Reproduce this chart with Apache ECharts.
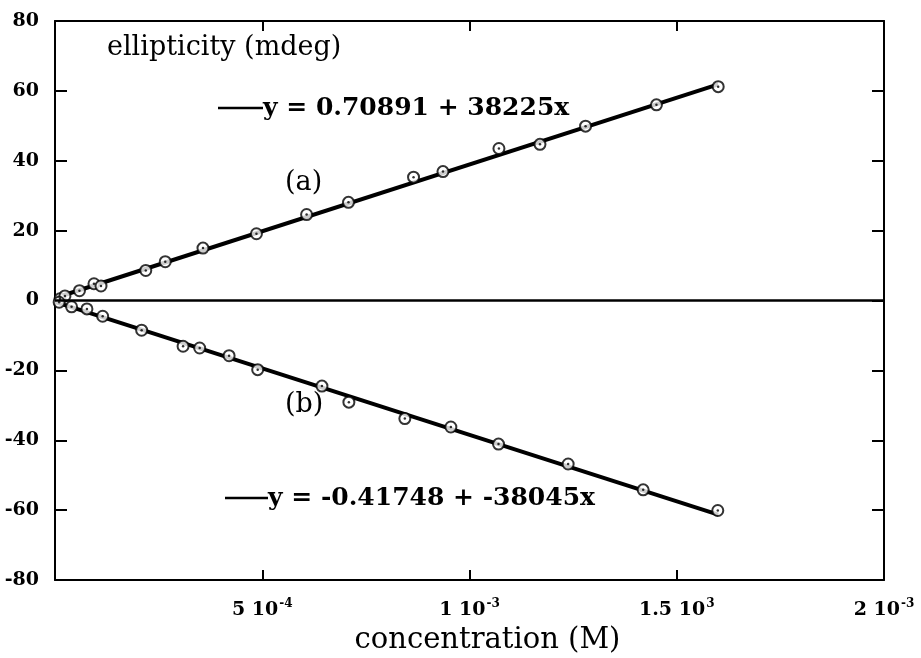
<!DOCTYPE html>
<html>
<head>
<meta charset="utf-8">
<script src="https://cdn.jsdelivr.net/npm/echarts@6/dist/echarts.min.js"></script>
<style>html,body{margin:0;padding:0;background:#fff}#c{width:921px;height:658px}</style>
</head>
<body>
<div id="c"></div>
<script>
// Series (a): positive ellipticity
const concA = [0.000012, 0.000024, 0.000059, 0.000094, 0.000111, 0.000219, 0.000266, 0.000357, 0.000486, 0.000607, 0.000708, 0.000865, 0.000936, 0.001071, 0.001170, 0.001280, 0.001451, 0.001600];
const ellA  = [0.5, 1.3, 2.8, 4.8, 4.15, 8.6, 11.1, 15.0, 19.1, 24.6, 28.1, 35.3, 36.9, 43.5, 44.7, 49.9, 56.0, 61.2];
// Series (b): negative ellipticity
const concB = [0.000010, 0.000040, 0.000077, 0.000115, 0.000209, 0.000309, 0.000349, 0.000420, 0.000489, 0.000644, 0.000709, 0.000844, 0.000955, 0.001070, 0.001238, 0.001419, 0.001599];
const ellB  = [-0.5, -1.8, -2.4, -4.5, -8.5, -13.1, -13.6, -15.8, -19.8, -24.5, -29.1, -33.8, -36.2, -41.1, -46.8, -54.2, -60.1];
// Fit lines (endpoints)
const fitX = [0, 0.0016];
const fitA = [0.70891, 61.87];
const fitB = [-0.41748, -61.29];
// Text
const eqA = 'y = 0.70891 + 38225x';
const eqB = 'y = -0.41748 + -38045x';
const xTickLabels = ['', '5 10{s|-4}', '1 10{s|-3}', '1.5 10{s|3}', '2 10{s|-3}'];
const yTitle = 'ellipticity (mdeg)';
const xTitle = 'concentration (M)';

const FONT = 'DejaVu Serif';
const zip = (xs, ys) => xs.map((x, i) => [x, ys[i]]);

const chart = echarts.init(document.getElementById('c'), null, {renderer: 'canvas'});
const axisCommon = {
  axisLine: {show: true, onZero: false, lineStyle: {color: '#000', width: 2}},
  splitLine: {show: false}
};
const ringStyle = {color: '#fff', borderColor: '#000', borderWidth: 2};
const txt = (x, y, text, font) => ({
  type: 'text', x: x, y: y,
  style: {text: text, fill: '#000', font: font, align: 'left', verticalAlign: 'middle'}
});
chart.setOption({
  animation: false,
  backgroundColor: '#fff',
  grid: {left: 55, right: 37, top: 21, bottom: 78, containLabel: false, outerBoundsMode: 'none'},
  xAxis: [
    Object.assign({}, axisCommon, {
      type: 'value', min: 0, max: 0.002, interval: 0.0005, position: 'bottom',
      axisTick: {show: true, inside: true, length: 10, lineStyle: {color: '#000', width: 2}},
      axisLabel: {
        margin: 18, color: '#000', fontFamily: FONT, fontSize: 19, fontWeight: 'bold',
        formatter: v => xTickLabels[Math.round(v / 0.0005)] || '',
        rich: {s: {fontFamily: FONT, fontSize: 12, fontWeight: 'bold', verticalAlign: 'top', padding: [0, 0, 12, 1]}}
      },
      name: xTitle, nameLocation: 'middle', nameGap: 46,
      nameTextStyle: {color: '#000', fontFamily: FONT, fontSize: 29, padding: [0, 0, 0, 36]}
    }),
    Object.assign({}, axisCommon, {
      type: 'value', min: 0, max: 0.002, interval: 0.0005, position: 'top',
      axisTick: {show: true, inside: true, length: 10, lineStyle: {color: '#000', width: 2}},
      axisLabel: {show: false}
    })
  ],
  yAxis: [
    Object.assign({}, axisCommon, {
      type: 'value', min: -80, max: 80, interval: 20, position: 'left',
      axisTick: {show: true, inside: true, length: 12, lineStyle: {color: '#000', width: 2}},
      axisLabel: {margin: 16, color: '#000', fontFamily: FONT, fontSize: 19, fontWeight: 'bold'}
    }),
    Object.assign({}, axisCommon, {
      type: 'value', min: -80, max: 80, interval: 20, position: 'right',
      axisTick: {show: true, inside: true, length: 12, lineStyle: {color: '#000', width: 2}},
      axisLabel: {show: false}
    })
  ],
  series: [
    {
      type: 'line', data: zip(fitX, fitA), showSymbol: false, symbol: 'none',
      lineStyle: {color: '#000', width: 4}, z: 2,
      markLine: {
        silent: true, symbol: ['none', 'none'], label: {show: false},
        lineStyle: {color: '#000', width: 2.5, type: 'solid'},
        data: [{yAxis: 0}]
      }
    },
    {type: 'line', data: zip(fitX, fitB), showSymbol: false, symbol: 'none', lineStyle: {color: '#000', width: 4}, z: 2},
    {type: 'scatter', data: zip(concA, ellA), symbol: 'circle', symbolSize: 11, itemStyle: ringStyle, z: 3},
    {type: 'scatter', data: zip(concB, ellB), symbol: 'circle', symbolSize: 11, itemStyle: ringStyle, z: 3},
    {type: 'scatter', data: zip(concA, ellA), symbol: 'circle', symbolSize: 2.5, itemStyle: {color: '#000'}, z: 4},
    {type: 'scatter', data: zip(concB, ellB), symbol: 'circle', symbolSize: 2.5, itemStyle: {color: '#000'}, z: 4}
  ],
  graphic: [
    txt(107, 48, yTitle, '27px "DejaVu Serif"'),
    {type: 'line', shape: {x1: 218, y1: 108, x2: 263, y2: 108}, style: {stroke: '#000', lineWidth: 2.5}},
    txt(263, 108, eqA, 'bold 25px "DejaVu Serif"'),
    txt(285, 183, '(a)', '27px "DejaVu Serif"'),
    txt(285, 405, '(b)', '27px "DejaVu Serif"'),
    {type: 'line', shape: {x1: 225, y1: 498, x2: 268, y2: 498}, style: {stroke: '#000', lineWidth: 2.5}},
    txt(268, 498, eqB, 'bold 25px "DejaVu Serif"')
  ]
});
</script>
</body>
</html>
